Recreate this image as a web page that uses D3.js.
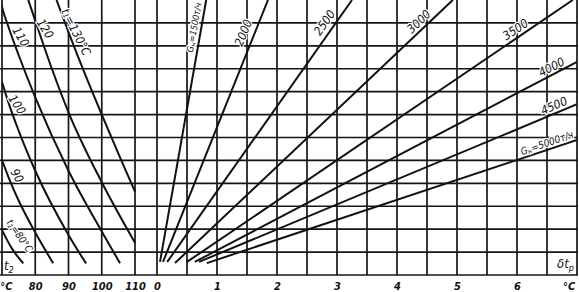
<!DOCTYPE html>
<html>
<head>
<meta charset="utf-8">
<script src="https://cdn.jsdelivr.net/npm/d3@7"></script>
<style>
  body { margin: 0; background: #fff; }
  text { font-family: "Liberation Sans Narrow", "DejaVu Sans Condensed", sans-serif; font-style: italic; fill: #111; }
</style>
</head>
<body>
<div id="chart"></div>
<script>
const width = 579,
  height = 292,
  margin = { top: 0, bottom: 17, left: 2, right: 2 };

// left part: t2, °C
const tTicks = [80, 90, 100, 110];
const tGrid = [70, 80, 90, 100, 110];
// right part: δt_p, °C
const dtTicks = [0, 1, 2, 3, 4, 5, 6];
const dtGrid = [0, 0.5, 1, 1.5, 2, 2.5, 3, 3.5, 4, 4.5, 5, 5.5, 6, 6.5, 7];
const rowGrid = [0, 1, 2, 3, 4, 5, 6, 7, 8, 9, 10, 11];

// t1 curves [t2, row]
const t1Levels = [80, 90, 100, 110, 120, 130];
const curve80 = [[70, 1.96], [73, 1.15], [76.4, 0.51]];
const curve90 = [[70, 5.02], [72, 4.25], [75, 3.25], [80, 1.85], [85.4, 0.51]];
const curve100 = [[70, 8.43], [72, 7.5], [75, 6.3], [80, 4.55], [90, 1.75], [95.3, 0.5]];
const curve110 = [[69.5, 12], [70, 11.7], [72, 10.8], [75, 9.6], [80, 7.75], [90, 4.55], [100, 1.9], [105.5, 0.51]];
const curve120 = [[77.9, 12], [80, 11.1], [85, 9.0], [90, 7.1], [100, 4.05], [110, 1.41]];
const curve130 = [[86.4, 12], [90, 10.6], [95, 8.75], [100, 7.0], [105, 5.3], [110, 3.63]];
const t1Curves = [curve80, curve90, curve100, curve110, curve120, curve130];

// G_H lines [δt, row] start / end
const gLevels = [1500, 2000, 2500, 3000, 3500, 4000, 4500, 5000];
const gStart = [[0.05, 0.57], [0.1, 0.57], [0.17, 0.57], [0.3, 0.52], [0.5, 0.57], [0.63, 0.57], [0.7, 0.57], [0.83, 0.52]];
const gEnd = [[0.82, 12], [1.85, 12], [3.25, 12], [4.93, 12], [6.93, 12], [7.0, 9.3], [7.0, 7.45], [7.0, 5.89]];

const svg = d3.select("#chart")
  .append("svg")
  .attr("width", width)
  .attr("height", height);

// SCALES
const xLeft = d3.scaleLinear().domain([70, 110]).range([margin.left, 135]);
const xRight = d3.scaleLinear().domain([0, 7]).range([157, width - margin.right]);
const yScale = d3.scaleLinear().domain([0, 12]).range([height - margin.bottom, margin.top]);

svg.append("defs").append("clipPath").attr("id", "plot")
  .append("rect")
  .attr("x", margin.left).attr("y", 0)
  .attr("width", width - margin.right - margin.left)
  .attr("height", yScale(0));

// GRID
const grid = svg.append("g").attr("stroke", "#151515").attr("stroke-width", 1.7);

grid.selectAll(".row")
  .data(rowGrid)
  .join("line")
  .attr("class", "row")
  .attr("x1", 0).attr("x2", width - margin.right + 1)
  .attr("y1", d => yScale(d)).attr("y2", d => yScale(d));

grid.selectAll(".tcol")
  .data(tGrid)
  .join("line")
  .attr("class", "tcol")
  .attr("x1", d => xLeft(d)).attr("x2", d => xLeft(d))
  .attr("y1", 0).attr("y2", yScale(0));

grid.selectAll(".dcol")
  .data(dtGrid)
  .join("line")
  .attr("class", "dcol")
  .attr("x1", d => xRight(d)).attr("x2", d => xRight(d))
  .attr("y1", 0).attr("y2", yScale(0));

// CURVES
const curves = svg.append("g").attr("clip-path", "url(#plot)");

const lineLeft = d3.line()
  .x(d => xLeft(d[0]))
  .y(d => yScale(d[1]))
  .curve(d3.curveMonotoneX);

curves.selectAll(".t1")
  .data(t1Curves)
  .join("path")
  .attr("class", "t1")
  .attr("d", lineLeft)
  .attr("fill", "none")
  .attr("stroke", "#111")
  .attr("stroke-width", 2);

curves.selectAll(".gh")
  .data(gLevels)
  .join("line")
  .attr("class", "gh")
  .attr("x1", (d, i) => xRight(gStart[i][0]))
  .attr("y1", (d, i) => yScale(gStart[i][1]))
  .attr("x2", (d, i) => xRight(gEnd[i][0]))
  .attr("y2", (d, i) => yScale(gEnd[i][1]))
  .attr("stroke", "#111")
  .attr("stroke-width", 2);

// LABELS on curves (placement only)
const t1Labels = [
  { t: 75.2, r: 1.7, a: 55, s: 10 },
  { t: 74.4, r: 4.32, a: 60, s: 12 },
  { t: 74.4, r: 7.42, a: 57, s: 12 },
  { t: 75.5, r: 10.38, a: 60, s: 12 },
  { t: 82.8, r: 10.73, a: 58, s: 12 },
  { t: 92.2, r: 10.6, a: 63, s: 12 }
];

const gLabels = [
  { d: 0.62, r: 10.8, a: -80, s: 9 },
  { d: 1.45, r: 10.56, a: -68, s: 12 },
  { d: 2.8, r: 11.0, a: -55, s: 12 },
  { d: 4.37, r: 11.04, a: -44, s: 12 },
  { d: 5.98, r: 10.69, a: -34, s: 12 },
  { d: 6.58, r: 9.05, a: -27, s: 12 },
  { d: 6.62, r: 7.36, a: -23, s: 12 },
  { d: 6.5, r: 5.74, a: -19, s: 10 }
];

const labels = svg.append("g")
  .attr("text-anchor", "middle")
  .attr("dominant-baseline", "middle")
  .attr("stroke", "#fff")
  .attr("stroke-width", 2.5)
  .attr("paint-order", "stroke");

labels.selectAll(".t1label")
  .data(t1Levels)
  .join("text")
  .attr("class", "t1label")
  .attr("font-size", (d, i) => t1Labels[i].s)
  .attr("transform", (d, i) => `translate(${xLeft(t1Labels[i].t)},${yScale(t1Labels[i].r)}) rotate(${t1Labels[i].a})`)
  .each(function(d, i) {
    const el = d3.select(this);
    if (i === 0 || i === t1Levels.length - 1) {
      el.append("tspan").text("t");
      el.append("tspan").attr("font-size", 7).attr("dy", 2).text("1");
      el.append("tspan").attr("dy", -2).text(`=${d}°C`);
    } else {
      el.text(d);
    }
  });

labels.selectAll(".glabel")
  .data(gLevels)
  .join("text")
  .attr("class", "glabel")
  .attr("font-size", (d, i) => gLabels[i].s)
  .attr("transform", (d, i) => `translate(${xRight(gLabels[i].d)},${yScale(gLabels[i].r)}) rotate(${gLabels[i].a})`)
  .each(function(d, i) {
    const el = d3.select(this);
    if (i === 0 || i === gLevels.length - 1) {
      el.append("tspan").text("G");
      el.append("tspan").attr("font-size", 7).attr("dy", 2).text("н");
      el.append("tspan").attr("dy", -2).text(`=${d}т/ч`);
    } else {
      el.text(d);
    }
  });

// AXES
const axisLeft = d3.axisBottom(xLeft).tickValues(tTicks).tickFormat(d3.format("d")).tickSize(0).tickPadding(7);
const axisRight = d3.axisBottom(xRight).tickValues(dtTicks).tickFormat(d3.format("d")).tickSize(0).tickPadding(7);

[axisLeft, axisRight].forEach(ax => {
  const g = svg.append("g")
    .attr("transform", `translate(0,${yScale(0)})`)
    .call(ax);
  g.select(".domain").remove();
  g.selectAll("text")
    .attr("font-size", 11)
    .attr("font-weight", "bold")
    .attr("font-family", null)
    .attr("fill", "#111");
});

svg.append("text")
  .attr("x", xLeft(71.3)).attr("y", 290)
  .attr("text-anchor", "middle")
  .attr("font-size", 11)
  .attr("font-weight", "bold")
  .text("°C");

svg.append("text")
  .attr("x", xRight(6.87)).attr("y", 290)
  .attr("text-anchor", "middle")
  .attr("font-size", 11)
  .attr("font-weight", "bold")
  .text("°C");

// axis names inside the corner cells
const t2Name = svg.append("text")
  .attr("x", 4).attr("y", 270)
  .attr("font-size", 13);
t2Name.append("tspan").text("t");
t2Name.append("tspan").attr("font-size", 9).attr("dy", 3).text("2");

const dtName = svg.append("text")
  .attr("x", 574).attr("y", 268)
  .attr("text-anchor", "end")
  .attr("font-size", 13);
dtName.append("tspan").text("δt");
dtName.append("tspan").attr("font-size", 9).attr("dy", 3).text("р");
</script>
</body>
</html>
